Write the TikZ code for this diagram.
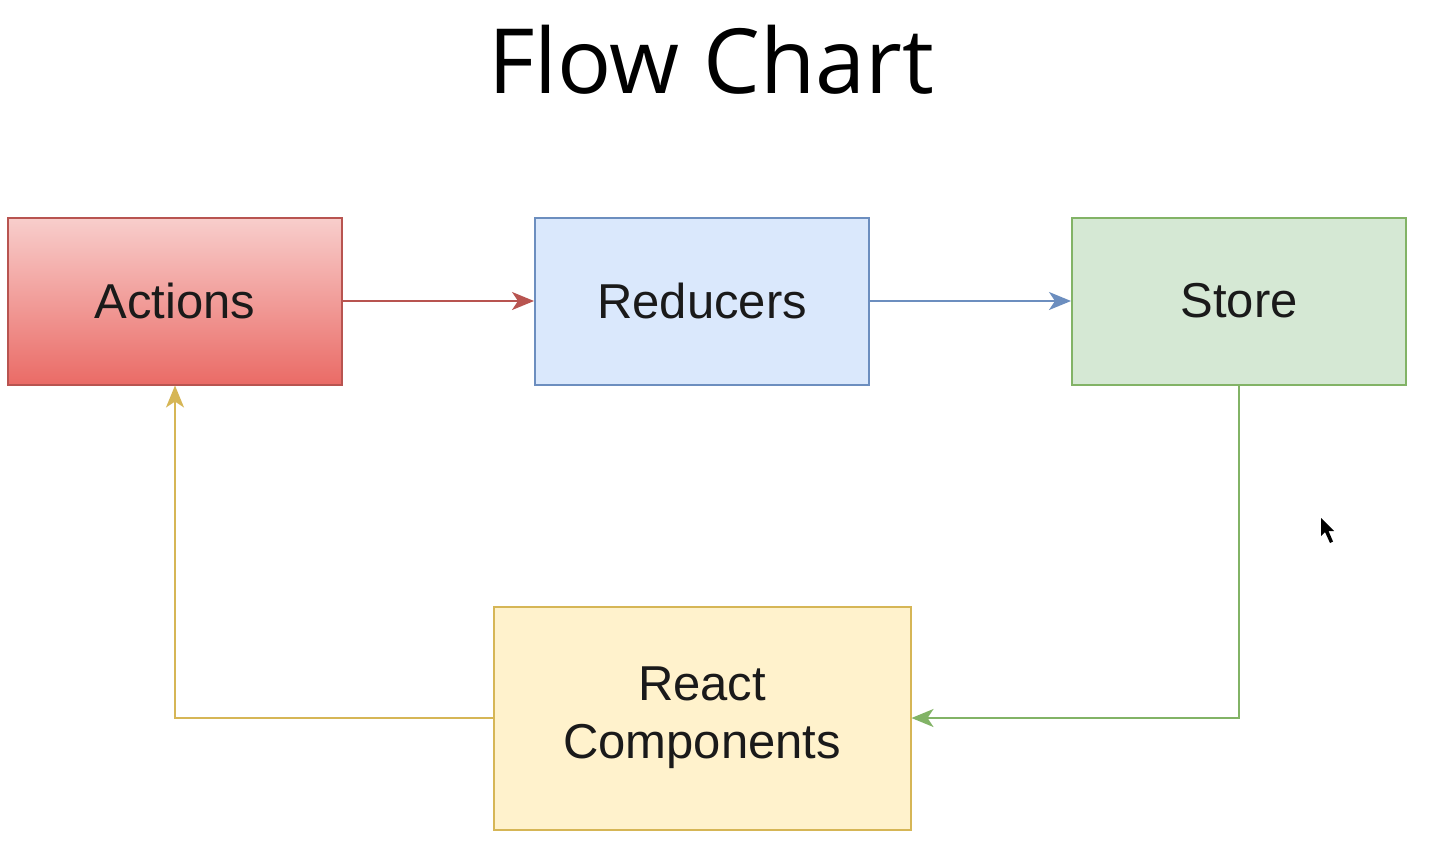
\documentclass[tikz,border=0pt]{standalone}
\usepackage{fontspec}
\setmainfont{Liberation Sans}
\newfontfamily\titlefont{Open Sans}
\usetikzlibrary{arrows.meta}
\definecolor{redfillA}{HTML}{F8CECC}
\definecolor{redfillB}{HTML}{EA6B66}
\definecolor{redline}{HTML}{B85450}
\definecolor{bluefill}{HTML}{DAE8FC}
\definecolor{blueline}{HTML}{6C8EBF}
\definecolor{greenfill}{HTML}{D5E8D4}
\definecolor{greenline}{HTML}{82B366}
\definecolor{yellowfill}{HTML}{FFF2CC}
\definecolor{yellowline}{HTML}{D6B656}
\definecolor{txt}{HTML}{1A1A1A}
\tikzset{
  box/.style={draw, line width=2pt, minimum width=334pt, minimum height=167pt, inner sep=0pt,
    align=center, text=txt, font=\fontsize{49}{58}\selectfont},
  conn/.style={line width=2pt, -{Stealth[length=22pt,width=18pt,inset=6pt]}},
}
\begin{document}
\begin{tikzpicture}[x=1pt,y=-1pt]
\useasboundingbox[fill=white] (0,0) rectangle (1454,860);
\node[font=\titlefont\fontsize{90}{100}\selectfont, text=black, anchor=base] (title) at (711,93) {Flow Chart};
\node[box, draw=redline, top color=redfillA, bottom color=redfillB] (act) at (175,301) {Actions};
\node[box, draw=blueline, fill=bluefill] (red) at (702,301) {Reducers};
\node[box, draw=greenline, fill=greenfill] (sto) at (1239,301) {Store};
\node[box, draw=yellowline, fill=yellowfill, minimum width=417pt, minimum height=223pt] (rc) at (702,718) {React\\Components};
\draw[conn, redline] (act.east) -- (red.west);
\draw[conn, blueline] (red.east) -- (sto.west);
\draw[conn, greenline] (sto.south) |- (rc.east);
\draw[conn, yellowline] (rc.west) -| (act.south);
\fill[black] (1321,518) -- (1321,536) -- (1325,532) -- (1330,543) -- (1333,541.5) -- (1328.5,531) -- (1334,531) -- cycle;
\end{tikzpicture}
\end{document}
